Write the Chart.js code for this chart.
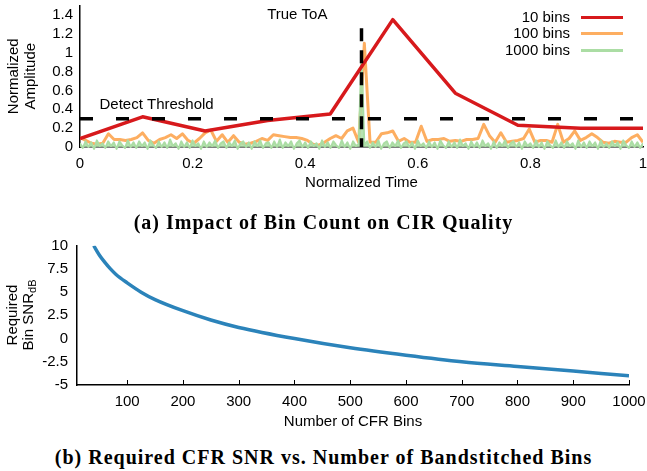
<!DOCTYPE html>
<html>
<head>
<meta charset="utf-8">
<script src="https://cdn.jsdelivr.net/npm/chart.js@4.4.0/dist/chart.umd.min.js"></script>
<style>
  body { margin: 0; background: #fff; width: 647px; height: 471px; position: relative; overflow: hidden;
         font-family: "Liberation Sans", Arial, sans-serif; color: #000; }
  canvas { position: absolute; left: 0; }
  #cirChart { top: 0; }
  #snrChart { top: 232px; }
  .cap { position: absolute; left: 0; width: 647px; text-align: center; font-family: "Liberation Serif", serif;
         font-weight: bold; font-size: 20px; letter-spacing: 1px; line-height: 22px; }
  .leg { position: absolute; font-size: 15px; line-height: 16px; }
  .leg span { position: absolute; right: 77px; white-space: nowrap; }
  .leg i { position: absolute; left: 581px; width: 42px; height: 3px; top: 7px; }
  #ytitle { position: absolute; left: -40px; top: 299px; width: 120px; height: 32px; text-align: center;
            font-size: 15px; line-height: 16px; transform: rotate(-90deg); }
  #ytitle sub { font-size: 11px; line-height: 0; vertical-align: -3px; }
</style>
</head>
<body>
<canvas id="cirChart" width="647" height="200"></canvas>
<canvas id="snrChart" width="647" height="200"></canvas>

<div class="leg" style="top:9px;left:0;width:647px"><span>10 bins</span><i style="background:#d7191c"></i></div>
<div class="leg" style="top:25px;left:0;width:647px"><span>100 bins</span><i style="background:#fdae61"></i></div>
<div class="leg" style="top:42px;left:0;width:647px"><span>1000 bins</span><i style="background:#abdda4"></i></div>

<div id="ytitle">Required<br>Bin SNR<sub>dB</sub></div>

<div class="cap" style="top:211px">(a) Impact of Bin Count on CIR Quality</div>
<div class="cap" style="top:446px">(b) Required CFR SNR vs. Number of Bandstitched Bins</div>

<script>
// ---- chart (a): CIR amplitude vs normalized time ----
var bins10 = [0.09, 0.32, 0.17, 0.28, 0.35, 1.35, 0.57, 0.23, 0.20, 0.20];

var bins100 = [
  0.10, 0.07, 0.04, 0.03, 0.04, 0.14, 0.08, 0.08, 0.07, 0.08,
  0.10, 0.15, 0.07, 0.04, 0.08, 0.10, 0.13, 0.09, 0.14, 0.07,
  0.04, 0.09, 0.15, 0.18, 0.06, 0.13, 0.05, 0.12, 0.05, 0.03,
  0.04, 0.06, 0.09, 0.07, 0.13, 0.12, 0.11, 0.10, 0.10, 0.09,
  0.07, 0.03, 0.02, 0.05, 0.09, 0.12, 0.09, 0.17, 0.20, 0.05,
  1.10, 0.05, 0.05, 0.14, 0.15, 0.17, 0.06, 0.09, 0.05, 0.05,
  0.22, 0.06, 0.08, 0.08, 0.09, 0.06, 0.07, 0.06, 0.08, 0.08,
  0.09, 0.24, 0.12, 0.05, 0.15, 0.05, 0.06, 0.07, 0.09, 0.19,
  0.05, 0.07, 0.07, 0.05, 0.24, 0.05, 0.09, 0.17, 0.07, 0.10,
  0.14, 0.10, 0.05, 0.04, 0.06, 0.05, 0.05, 0.10, 0.13, 0.05
];

var bins1000 = [
  0.04, -0.01, 0.06, 0.00, 0.05, -0.02, 0.07, 0.01, 0.04, -0.01, 0.06, 0.01, 0.05, -0.02, 0.06, 0.02, -0.01, 0.07, 0.00, 0.05,
  -0.01, 0.06, 0.01, 0.05, -0.02, 0.07, 0.02, -0.01, 0.06, 0.00, 0.05, -0.01, 0.08, 0.01, 0.04, -0.02, 0.06, 0.00, 0.05, -0.01,
  0.07, 0.01, 0.04, -0.02, 0.06, 0.00, 0.05, 0.01, 0.07, -0.01, 0.04, 0.06, -0.01, 0.05, 0.01, 0.07, -0.02, 0.04, 0.06, 0.00,
  0.05, -0.02, 0.06, 0.01, 0.07, -0.01, 0.04, 0.05, -0.01, 0.06, 0.00, 0.08, -0.01, 0.05, 0.01, 0.06, -0.02, 0.04, 0.07, 0.00,
  0.05, -0.01, 0.06, 0.01, 0.04, -0.02, 0.07, 0.00, 0.05, -0.01, 0.06, 0.02, -0.01, 0.07, 0.00, 0.05, -0.02, 0.06, 0.01, 0.03,
  1.00, 0.02, 0.06, -0.01, 0.05, 0.00, 0.07, -0.02, 0.04, 0.06, -0.01, 0.05, 0.01, 0.07, -0.01, 0.04, 0.06, 0.00, 0.05, -0.02,
  0.07, 0.01, 0.04, -0.01, 0.06, 0.00, 0.05, -0.02, 0.07, 0.02, -0.01, 0.06, 0.00, 0.05, -0.01, 0.08, 0.01, 0.04, -0.02, 0.06,
  0.00, 0.05, -0.01, 0.07, 0.01, 0.04, -0.02, 0.06, -0.01, 0.05, 0.01, 0.07, -0.01, 0.04, 0.06, 0.00, 0.05, -0.02, 0.06, 0.01,
  0.04, -0.01, 0.07, 0.00, 0.05, -0.02, 0.06, 0.02, -0.01, 0.07, 0.00, 0.05, -0.01, 0.06, 0.01, 0.04, -0.02, 0.07, 0.00, 0.05,
  -0.01, 0.06, 0.01, 0.05, -0.02, 0.07, 0.00, 0.04, -0.01, 0.06, 0.01, 0.05, -0.02, 0.07, 0.02, -0.01, 0.06, 0.00, 0.05, -0.01,
  0.04
];

var detectThreshold = 0.3;
var trueToA = 0.5;
var toaLineTop = 1.26;
var timeTicks = [0, 0.2, 0.4, 0.6, 0.8, 1];
var ampTicks = [0, 0.2, 0.4, 0.6, 0.8, 1, 1.2, 1.4];

// ---- chart (b): required bin SNR vs number of CFR bins ----
var cfrBins = [40, 50, 60, 70, 80, 100, 125, 150, 200, 250, 300, 400, 500, 600, 700, 800, 900, 1000];
var snrDb = [10.0, 9.0, 8.2, 7.5, 6.9, 6.0, 5.0, 4.2, 3.0, 2.0, 1.2, 0.0, -1.0, -1.8, -2.5, -3.0, -3.5, -4.0];
var binTicks = [100, 200, 300, 400, 500, 600, 700, 800, 900, 1000];
var snrTicks = [-5, -2.5, 0, 2.5, 5, 7.5, 10];

var tickFont = { family: '"Liberation Sans", Arial, sans-serif', size: 15 };

function evenBins(vals) {
  return vals.map(function(v, i) { return { x: i / (vals.length - 1), y: v }; });
}
function fmt(v) { return String(+v.toFixed(2)); }
function setTicks(list) {
  return function(scale) { scale.ticks = list.map(function(v) { return { value: v }; }); };
}
function fixWidth(w) {
  return function(scale) { scale.width = w; scale.paddingTop = 0; scale.paddingBottom = 0; };
}
function fixHeight(h) {
  return function(scale) { scale.height = h; scale.paddingLeft = 0; scale.paddingRight = 0; };
}

// text labels placed in data coordinates
var notes = {
  id: 'notes',
  afterDatasetsDraw: function(chart, args, opts) {
    var ctx = chart.ctx, x = chart.scales.x, y = chart.scales.y;
    ctx.save();
    ctx.font = '15px "Liberation Sans", Arial, sans-serif';
    ctx.fillStyle = '#000';
    ctx.textAlign = 'center';
    ctx.textBaseline = 'middle';
    (opts.items || []).forEach(function(it) {
      ctx.fillText(it.text, x.getPixelForValue(it.x), y.getPixelForValue(it.y));
    });
    ctx.restore();
  }
};

// small tick marks pointing into the plot
var innerTicks = {
  id: 'innerTicks',
  afterDraw: function(chart, args, opts) {
    if (!opts.on) return;
    var ctx = chart.ctx, x = chart.scales.x, b = chart.chartArea.bottom;
    ctx.save();
    ctx.strokeStyle = '#000';
    ctx.lineWidth = 1;
    x.ticks.forEach(function(t) {
      var px = Math.round(x.getPixelForValue(t.value)) + 0.5;
      ctx.beginPath();
      ctx.moveTo(px, b);
      ctx.lineTo(px, b - 5);
      ctx.stroke();
    });
    ctx.restore();
  }
};

new Chart(document.getElementById('cirChart'), {
  type: 'line',
  data: {
    datasets: [
      { data: [{ x: 0, y: detectThreshold }, { x: 1, y: detectThreshold }], borderColor: '#000',
        borderWidth: 3.5, borderDash: [13, 23], order: 0 },
      { data: [{ x: trueToA, y: toaLineTop }, { x: trueToA, y: 0 }], borderColor: '#000',
        borderWidth: 3.5, borderDash: [13, 9], order: 0 },
      { label: '10 bins', data: evenBins(bins10), borderColor: '#d7191c', borderWidth: 3.5, order: 1 },
      { label: '1000 bins', data: evenBins(bins1000), borderColor: '#abdda4', borderWidth: 2,
        fill: 'origin', backgroundColor: 'rgba(171, 221, 164, 0.85)', order: 2,
        clip: { left: 0, top: 0, right: 0, bottom: 4 } },
      { label: '100 bins', data: evenBins(bins100), borderColor: '#fdae61', borderWidth: 3, order: 3 }
    ]
  },
  options: {
    responsive: false,
    animation: false,
    parsing: false,
    layout: { padding: { left: 0, right: 4, top: 5.5, bottom: 0 } },
    elements: { point: { radius: 0 }, line: { tension: 0, borderJoinStyle: 'round' } },
    plugins: {
      legend: { display: false },
      tooltip: { enabled: false },
      filler: { drawTime: 'beforeDatasetDraw' },
      notes: { items: [
        { text: 'True ToA', x: 0.386, y: 1.4 },
        { text: 'Detect Threshold', x: 0.136, y: 0.445 }
      ] }
    },
    scales: {
      x: {
        type: 'linear', min: 0, max: 1,
        afterBuildTicks: setTicks(timeTicks),
        afterFit: fixHeight(53),
        grid: { display: false, drawTicks: false },
        border: { display: true, color: '#000', width: 1.5, z: -1 },
        ticks: { color: '#000', font: tickFont, padding: 8, maxRotation: 0, autoSkip: false, callback: fmt },
        title: { display: true, text: 'Normalized Time', color: '#000', font: tickFont, padding: { top: 0, bottom: 8 } }
      },
      y: {
        type: 'linear', min: 0, max: 1.5,
        afterBuildTicks: setTicks(ampTicks),
        afterFit: fixWidth(80),
        grid: { display: false, drawTicks: false },
        border: { display: true, color: '#000', width: 1.5 },
        ticks: { color: '#000', font: tickFont, padding: 7, autoSkip: false, callback: fmt },
        title: { display: true, text: ['Normalized', 'Amplitude'], color: '#000',
                 font: { family: tickFont.family, size: 15, lineHeight: 1.1 }, padding: { top: 6, bottom: 0 } }
      }
    }
  },
  plugins: [notes]
});

new Chart(document.getElementById('snrChart'), {
  type: 'line',
  data: {
    datasets: [
      { label: 'Required SNR', data: cfrBins.map(function(n, i) { return { x: n, y: snrDb[i] }; }),
        borderColor: '#2b83ba', borderWidth: 3.5, cubicInterpolationMode: 'monotone' }
    ]
  },
  options: {
    responsive: false,
    animation: false,
    parsing: false,
    layout: { padding: { left: 0, right: 18, top: 13.7, bottom: 0 } },
    elements: { point: { radius: 0 } },
    plugins: {
      legend: { display: false },
      tooltip: { enabled: false },
      innerTicks: { on: true }
    },
    scales: {
      x: {
        type: 'linear', min: 10, max: 1000,
        afterBuildTicks: setTicks(binTicks),
        afterFit: fixHeight(47),
        grid: { display: false, drawTicks: false },
        border: { display: true, color: '#000', width: 1.5 },
        ticks: { color: '#000', font: tickFont, padding: 8, maxRotation: 0, autoSkip: false, callback: fmt },
        title: { display: true, text: 'Number of CFR Bins', color: '#000',
                 font: { family: tickFont.family, size: 15, lineHeight: 1.1 }, padding: { top: 0, bottom: 2 } }
      },
      y: {
        type: 'linear', min: -5, max: 10,
        afterBuildTicks: setTicks(snrTicks),
        afterFit: fixWidth(77),
        grid: { display: false, drawTicks: false },
        border: { display: true, color: '#000', width: 1.5 },
        ticks: { color: '#000', font: tickFont, padding: 9, autoSkip: false, callback: fmt }
      }
    }
  },
  plugins: [innerTicks]
});
</script>
</body>
</html>
